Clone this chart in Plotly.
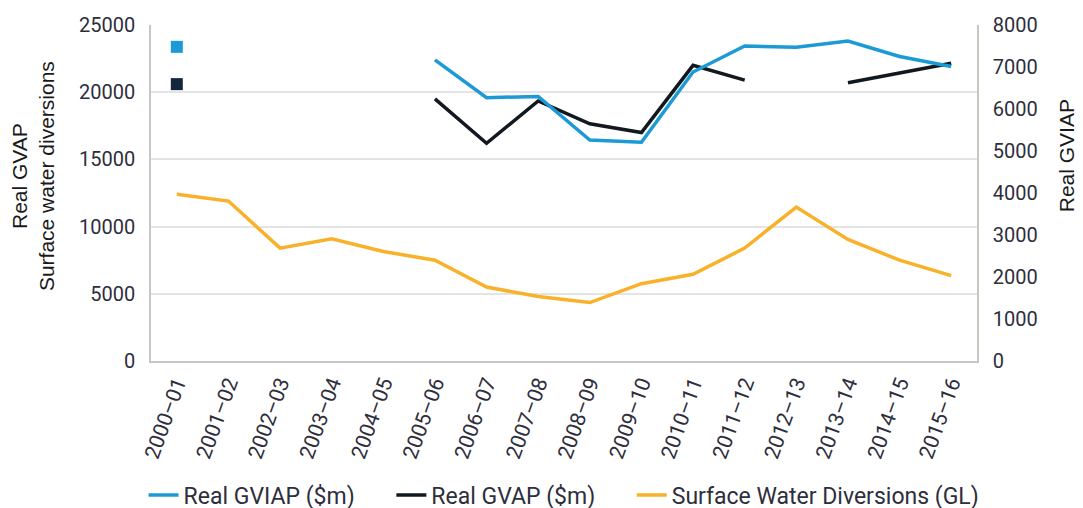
import plotly.graph_objects as go

categories = ["2000–01", "2001–02", "2002–03", "2003–04", "2004–05", "2005–06",
              "2006–07", "2007–08", "2008–09", "2009–10", "2010–11", "2011–12",
              "2012–13", "2013–14", "2014–15", "2015–16"]

# Real GVIAP ($m) - right axis
gviap = [7480, None, None, None, None, 7170, 6270, 6300, 5260, 5210,
         6880, 7500, 7470, 7620, 7250, 7010]
# Real GVAP ($m) - left axis
gvap = [20600, None, None, None, None, 19500, 16200, 19350, 17650, 17000,
        22000, 20900, None, 20700, 21400, 22150]
# Surface Water Diversions (GL) - left axis
surface = [12400, 11900, 8400, 9100, 8150, 7500, 5500, 4800, 4350, 5750,
           6450, 8400, 11450, 9050, 7500, 6350]

BLUE = "#1b9ad6"
BLACK = "#111820"
NAVY = "#13263b"
ORANGE = "#f9b12a"
TXT = "#2e2e3c"
DIN = "Roboto, Liberation Sans, Arial, sans-serif"
ARIAL = "Liberation Sans, Arial, sans-serif"


def isolated(vals):
    xs, ys = [], []
    for i, v in enumerate(vals):
        if v is None:
            continue
        prev_ok = i > 0 and vals[i - 1] is not None
        next_ok = i < len(vals) - 1 and vals[i + 1] is not None
        if not prev_ok and not next_ok:
            xs.append(categories[i])
            ys.append(v)
    return xs, ys


fig = go.Figure()

fig.add_trace(go.Scatter(x=categories, y=gviap, name="Real GVIAP ($m)", mode="lines",
                         line=dict(color=BLUE, width=3.5), yaxis="y2", legend="legend"))
fig.add_trace(go.Scatter(x=categories, y=gvap, name="Real GVAP ($m)", mode="lines",
                         line=dict(color=BLACK, width=3.5), legend="legend2"))
fig.add_trace(go.Scatter(x=categories, y=surface, name="Surface Water Diversions (GL)",
                         mode="lines", line=dict(color=ORANGE, width=3.5), legend="legend3"))

ix, iy = isolated(gviap)
fig.add_trace(go.Scatter(x=ix, y=iy, mode="markers", showlegend=False, yaxis="y2",
                         marker=dict(symbol="square", size=12, color=BLUE)))
ix, iy = isolated(gvap)
fig.add_trace(go.Scatter(x=ix, y=iy, mode="markers", showlegend=False,
                         marker=dict(symbol="square", size=12, color=NAVY)))

legend_common = dict(orientation="h", xanchor="left", y=-0.399, yanchor="middle",
                     font=dict(family=DIN, size=23, color=TXT),
                     bgcolor="rgba(0,0,0,0)")

fig.update_layout(
    template="none",
    width=1083, height=530,
    margin=dict(l=143, r=114, t=17, b=177),
    paper_bgcolor="white", plot_bgcolor="white",
    showlegend=True,
    legend=dict(x=-0.009, **legend_common),
    legend2=dict(x=0.291, **legend_common),
    legend3=dict(x=0.582, **legend_common),
    xaxis=dict(type="category", categoryorder="array", categoryarray=categories,
               range=[-0.5, 15.5],
               showgrid=False, showline=True, linecolor="#c9c5c0", linewidth=1.5,
               ticks="", tickangle=-70, automargin=False,
               tickfont=dict(family=DIN, size=21, color=TXT), zeroline=False),
    yaxis=dict(range=[0, 25000], dtick=5000, showgrid=True, gridcolor="#e4e4e4",
               gridwidth=1.5, showline=True, linecolor="#c9c5c0", linewidth=1.5,
               ticks="", ticklabelstandoff=10, automargin=False, zeroline=False,
               tickformat="d", tickfont=dict(family=DIN, size=20, color=TXT)),
    yaxis2=dict(range=[0, 8000], dtick=1000, overlaying="y", side="right",
                showgrid=False, showline=True, linecolor="#c9c5c0", linewidth=1.5,
                ticks="", ticklabelstandoff=10, automargin=False, zeroline=False,
                tickformat="d", tickfont=dict(family=DIN, size=20, color=TXT)),
    annotations=[
        dict(text="Real GVAP<br>Surface water diversions", textangle=-90,
             xref="paper", yref="paper", x=-0.143, y=0.55, xanchor="center",
             yanchor="middle", showarrow=False,
             font=dict(family=ARIAL, size=21, color="#1a1a1a")),
        dict(text="Real GVIAP", textangle=-90,
             xref="paper", yref="paper", x=1.108, y=0.61, xanchor="center",
             yanchor="middle", showarrow=False,
             font=dict(family=ARIAL, size=21, color="#1a1a1a")),
    ],
)

fig.write_html("out.html")
